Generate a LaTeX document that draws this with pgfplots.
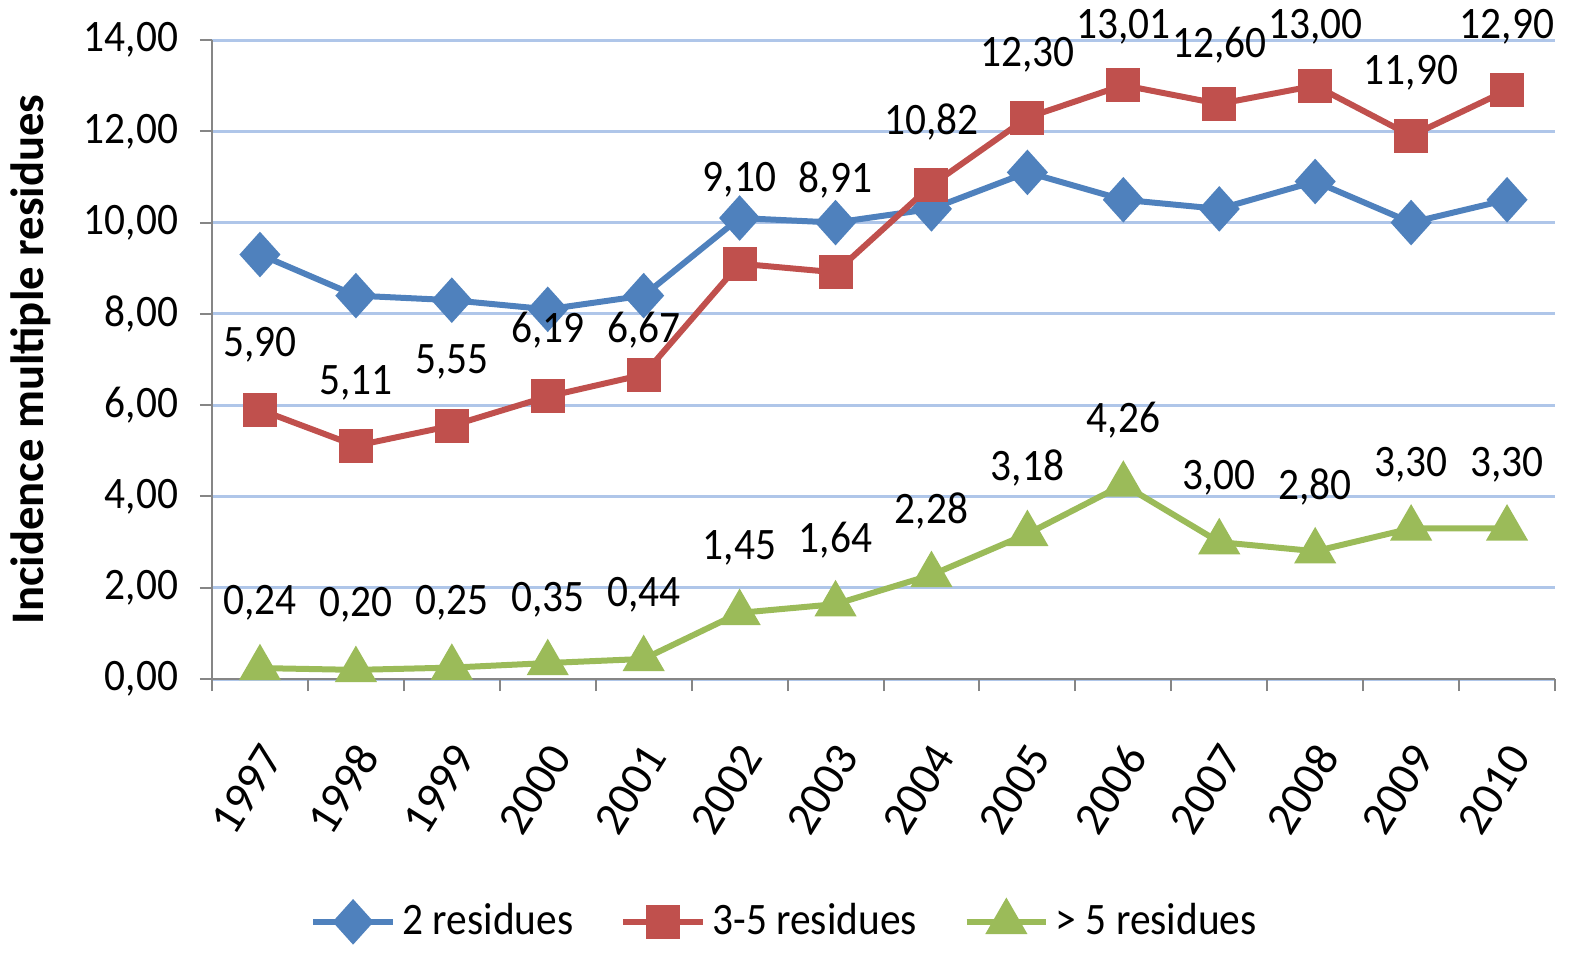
\documentclass[border=0pt]{standalone}
\usepackage{pgfplots}
\pgfplotsset{compat=1.18}
\usepackage{pgfplotstable}
\usepackage{fontspec}
\setmainfont{Carlito}
\newfontfamily\narrow{Carlito}[FakeStretch=0.92]
\definecolor{cblue}{HTML}{4F81BD}
\definecolor{cred}{HTML}{C0504D}
\definecolor{cgreen}{HTML}{9BBB59}
\definecolor{cgrid}{HTML}{AFC6E9}
\definecolor{caxis}{HTML}{868686}
\pgfplotstableread{
x blue red green rly gly rlbl glbl
0 9.30 5.90 0.24 7.32 1.67 5,90 0,24
1 8.40 5.11 0.20 6.49 1.62 5,11 0,20
2 8.30 5.55 0.25 6.95 1.67 5,55 0,25
3 8.10 6.19 0.35 7.65 1.73 6,19 0,35
4 8.40 6.67 0.44 7.65 1.84 6,67 0,44
5 10.10 9.10 1.45 10.93 2.87 9,10 1,45
6 10.00 8.91 1.64 10.93 3.05 8,91 1,64
7 10.30 10.82 2.28 12.20 3.68 10,82 2,28
8 11.10 12.30 3.18 13.67 4.62 12,30 3,18
9 10.50 13.01 4.26 14.29 5.67 13,01 4,26
10 10.30 12.60 3.00 13.89 4.40 12,60 3,00
11 10.90 13.00 2.80 14.29 4.21 13,00 2,80
12 10.00 11.90 3.30 13.28 4.69 11,90 3,30
13 10.50 12.90 3.30 14.29 4.69 12,90 3,30
}\datatab
\begin{document}
\begin{tikzpicture}
\begin{axis}[
  scale only axis,
  width=402.9pt, height=191.7pt,
  xmin=-0.5, xmax=13.5,
  ymin=0, ymax=14,
  clip=false,
  axis x line*=bottom, axis y line*=left,
  axis line style={caxis, line width=0.6pt},
  xtick={0,...,13},
  xticklabels={1997,1998,1999,2000,2001,2002,2003,2004,2005,2006,2007,2008,2009,2010},
  minor xtick={-0.5,0.5,...,13.5},
  major x tick style={draw=none},
  minor x tick style={caxis, line width=0.6pt},
  ytick={0,2,...,14},
  y tick style={caxis, line width=0.6pt},
  tick align=outside,
  major tick length=3.6pt, minor tick length=3.6pt,
  ymajorgrids,
  major grid style={cgrid, line width=0.9pt},
  /pgf/number format/assume math mode=true,
  yticklabel={\pgfmathprintnumber[fixed, fixed zerofill, precision=2, use comma]{\tick}},
  yticklabel style={font=\narrow\fontsize{13.5}{15}\selectfont, text=black, xshift=-3pt},
  xticklabel style={font=\fontsize{14}{16}\selectfont, text=black, xshift=5.5pt, yshift=-14.5pt, rotate=58, anchor=east},
  ylabel={\textbf{Incidence multiple residues}},
  ylabel style={font=\fontsize{14}{16}\selectfont, yshift=3pt},
  legend style={at={(0.428,-0.38)}, anchor=center, draw=none, legend columns=3,
    font=\narrow\fontsize{13.5}{15}\selectfont, /tikz/every even column/.append style={column sep=12pt}},
  legend image code/.code={\draw[mark repeat=2,mark phase=2] plot coordinates {(0cm,0cm) (0.42cm,0cm) (0.84cm,0cm)};},
  legend cell align=left,
]
\addplot[cblue, line width=1.8pt, mark=diamond*, mark size=5.5pt, mark options={solid, fill=cblue, xscale=1.2}] table[x=x, y=blue] {\datatab};
\addlegendentry{2 residues}
\addplot[cred, line width=1.8pt, mark=square*, mark size=4.2pt, mark options={solid, fill=cred}] table[x=x, y=red] {\datatab};
\addlegendentry{3-5 residues}
\addplot[cgreen, line width=1.8pt, mark=triangle*, mark size=5.5pt, mark options={solid, fill=cgreen}] table[x=x, y=green] {\datatab};
\addlegendentry{> 5 residues}
\addplot[draw=none, mark=none, forget plot, nodes near coords, point meta=explicit symbolic,
  every node near coord/.style={anchor=center, font=\narrow\fontsize{13.5}{15}\selectfont, text=black}]
  table[x=x, y=rly, meta=rlbl] {\datatab};
\addplot[draw=none, mark=none, forget plot, nodes near coords, point meta=explicit symbolic,
  every node near coord/.style={anchor=center, font=\narrow\fontsize{13.5}{15}\selectfont, text=black}]
  table[x=x, y=gly, meta=glbl] {\datatab};
\end{axis}
\pgfresetboundingbox
\path[use as bounding box] (-63.6pt,-84pt) rectangle (410.1pt,203.7pt);
\end{tikzpicture}
\end{document}
